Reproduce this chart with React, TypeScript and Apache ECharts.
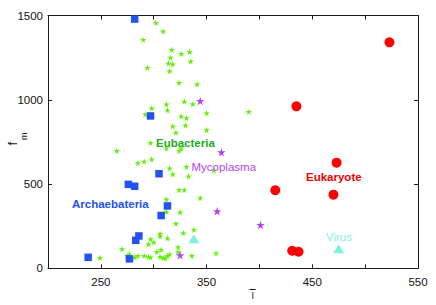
import React, { useEffect, useRef } from "react";
import * as echarts from "echarts";

const eubacteria: number[][] = [
  [302, 1457], [309, 1406], [290, 1356], [317, 1297], [326, 1273], [334, 1285], [316, 1250],
  [335, 1228], [314, 1216], [318, 1210], [315, 1171], [294, 1190], [324, 1101], [341, 1092],
  [329, 989], [337, 975], [312, 973], [313, 938], [298, 949], [292, 914], [350, 921], [390, 929],
  [326, 902], [331, 892], [318, 843], [330, 849], [321, 805], [350, 821], [297, 745], [312, 712],
  [326, 712], [324, 698], [265, 698], [285, 625], [291, 633], [298, 647], [315, 593], [318, 558],
  [331, 603], [333, 546], [357, 581], [324, 465], [329, 465], [344, 417], [312, 409], [312, 336],
  [325, 332], [321, 265], [338, 229], [306, 205], [306, 190], [328, 209], [313, 178], [297, 174],
  [300, 154], [295, 142], [270, 115], [323, 126], [323, 98], [307, 110], [303, 98], [359, 89],
  [336, 75], [277, 85], [275, 75], [285, 75], [282, 65], [291, 75], [295, 69], [297, 65],
  [306, 69], [309, 63], [313, 75], [315, 83], [311, 59], [249, 63],
];
const mycoplasma: number[][] = [[344, 992], [364, 688], [360, 338], [401, 257], [325, 78]];
const archaebacteria: number[][] = [
  [282, 1479], [297, 904], [305, 561], [276, 498], [282, 487], [313, 370], [307, 313],
  [286, 192], [283, 166], [238, 65], [277, 56],
];
const eukaryote: number[][] = [[523, 1341], [435, 961], [473, 627], [415, 463], [470, 437], [431, 104], [437, 98]];
const virus: number[][] = [[338, 175], [475, 116]];

const xTickLabels = [250, 350, 450, 550];
const yTickLabels = [0, 500, 1000, 1500];

const STAR =
  "path://M100,0L122.45,69.1L195.1,69.1L136.3,111.8L158.8,180.9L100,138.2L41.2,180.9L63.7,111.8L4.9,69.1L77.55,69.1Z";

const FONT = "'Liberation Sans', Arial, Helvetica, sans-serif";
const AXIS_COLOR = "#1a1a1a";

function label(text: string, x: number, y: number, color: string, bold: boolean) {
  return {
    type: "text",
    x,
    y,
    silent: true,
    z: 100,
    style: {
      text,
      fill: color,
      fontSize: 11.5,
      fontWeight: bold ? "bold" : "normal",
      fontFamily: FONT,
      align: "left",
      textAlign: "left",
      verticalAlign: "middle",
      textVerticalAlign: "middle",
    },
  };
}

export default function App() {
  const ref = useRef<HTMLDivElement>(null);
  useEffect(() => {
    if (!ref.current) return;
    const chart = echarts.init(ref.current, undefined, { renderer: "svg" });
    const axisCommon = {
      type: "value" as const,
      splitLine: { show: false },
      axisLine: { show: true, onZero: false, lineStyle: { color: AXIS_COLOR, width: 1 } },
      axisTick: { show: true, inside: true, length: 4, lineStyle: { color: AXIS_COLOR, width: 1 } },
    };
    chart.setOption({
      animation: false,
      backgroundColor: "#fff",
      grid: { left: 48, right: 18, top: 15.5, bottom: 36.7, containLabel: false },
      xAxis: [
        {
          ...axisCommon,
          position: "bottom",
          min: 200,
          max: 550,
          interval: 50,
          axisLabel: {
            show: true,
            margin: 8,
            color: "#111",
            fontSize: 11.5,
            fontFamily: FONT,
            showMinLabel: true,
            showMaxLabel: true,
            formatter: (v: number) => (xTickLabels.includes(v) ? String(v) : ""),
          },
        },
        {
          ...axisCommon,
          position: "top",
          min: 200,
          max: 550,
          interval: 50,
          axisLabel: { show: false },
        },
      ],
      yAxis: [
        {
          ...axisCommon,
          position: "left",
          min: 0,
          max: 1500,
          interval: 500,
          axisLabel: {
            show: true,
            margin: 5,
            color: "#111",
            fontSize: 11.5,
            fontFamily: FONT,
            formatter: (v: number) => (yTickLabels.includes(v) ? String(v) : ""),
          },
        },
        {
          ...axisCommon,
          position: "right",
          min: 0,
          max: 1500,
          interval: 500,
          axisLabel: { show: false },
        },
      ],
      series: [
        {
          name: "Eubacteria",
          type: "scatter",
          data: eubacteria,
          symbol: STAR,
          symbolSize: 6.5,
          itemStyle: { color: "#66ee11", opacity: 1 },
          z: 2,
        },
        {
          name: "Mycoplasma",
          type: "scatter",
          data: mycoplasma,
          symbol: STAR,
          symbolSize: 8.5,
          itemStyle: { color: "#b044ee", opacity: 1 },
          z: 3,
        },
        {
          name: "Archaebateria",
          type: "scatter",
          data: archaebacteria,
          symbol: "rect",
          symbolSize: 7.5,
          itemStyle: { color: "#2452f0", opacity: 1 },
          z: 4,
        },
        {
          name: "Eukaryote",
          type: "scatter",
          data: eukaryote,
          symbol: "circle",
          symbolSize: 10,
          itemStyle: { color: "#ff0000", opacity: 1 },
          z: 5,
        },
        {
          name: "Virus",
          type: "scatter",
          data: virus,
          symbol: "triangle",
          symbolSize: [11, 9],
          itemStyle: { color: "#7ff0dc", opacity: 1 },
          z: 6,
        },
      ],
      graphic: [
        label("Archaebateria", 72, 204, "#2452f0", true),
        label("Eubacteria", 156, 143, "#22aa22", true),
        label("Mycoplasma", 191.5, 166.7, "#b044ee", false),
        label("Eukaryote", 306, 176.7, "#ee0000", true),
        label("Virus", 326, 236.7, "#7ff0dc", false),
        {
          type: "text",
          x: 12,
          y: 143.7,
          rotation: Math.PI / 2,
          style: {
            text: "f",
            fill: "#111",
            fontSize: 13,
            fontFamily: FONT,
            align: "center",
            textAlign: "center",
            verticalAlign: "middle",
            textVerticalAlign: "middle",
          },
        },
        {
          type: "text",
          x: 23.5,
          y: 136.3,
          rotation: Math.PI / 2,
          style: {
            text: "m",
            fill: "#111",
            fontSize: 9,
            fontFamily: FONT,
            align: "center",
            textAlign: "center",
            verticalAlign: "middle",
            textVerticalAlign: "middle",
          },
        },
        {
          type: "text",
          x: 252.7,
          y: 295.3,
          style: {
            text: "l",
            fill: "#111",
            fontSize: 9.5,
            fontFamily: FONT,
            align: "center",
            textAlign: "center",
            verticalAlign: "middle",
            textVerticalAlign: "middle",
          },
        },
        {
          type: "line",
          shape: { x1: 249.5, y1: 289.5, x2: 255.7, y2: 289.5 },
          style: { stroke: "#111", lineWidth: 1 },
        },
      ],
    });
    return () => chart.dispose();
  }, []);
  return (
    <div
      ref={ref}
      style={{ position: "fixed", left: 0, top: 0, width: 436, height: 305, background: "#fff" }}
    />
  );
}
